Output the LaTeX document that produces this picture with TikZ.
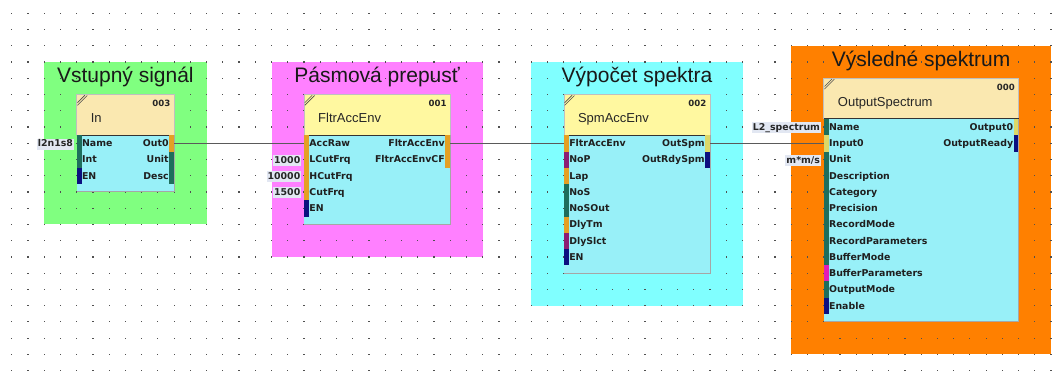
\documentclass[tikz,border=0pt]{standalone}
\usepackage{fontspec}
\setmainfont{Liberation Sans}
\newfontfamily\dejasans{DejaVu Sans}

\definecolor{grpgreen}{HTML}{80FF80}
\definecolor{grppink}{HTML}{FF80FF}
\definecolor{grpcyan}{HTML}{80FFFF}
\definecolor{grporange}{HTML}{FF8000}
\definecolor{bodycyan}{HTML}{98F0F8}
\definecolor{hdrbeige}{HTML}{FAE8B0}
\definecolor{hdryellow}{HTML}{FFF8A0}
\definecolor{pteal}{HTML}{1E6E5C}
\definecolor{pnavy}{HTML}{0C1080}
\definecolor{porange}{HTML}{E4A024}
\definecolor{ppurple}{HTML}{8C1E72}
\definecolor{pyellow}{HTML}{DCD868}
\definecolor{pmagenta}{HTML}{E21CB8}
\definecolor{lblbg}{HTML}{E2E7F2}
\definecolor{wirecol}{HTML}{5A5A5A}
\definecolor{dotcol}{HTML}{505050}

% function block frame: id, left, right, top, rows, header colour, type, instance number
\newcommand{\fbblock}[8]{%
  \fill[bodycyan] (#2,{#4+2.5}) rectangle (#3,{#4+3+#5});
  \draw[black!35, line width=0.9pt] (#3,{#4+2.5}) -- (#3,{#4+3+#5}) -- (#2,{#4+3+#5});
  \fill[#6] (#2,#4) rectangle (#3,{#4+2.5});
  \draw[black!25, line width=0.7pt] (#2,{#4+2.5}) -- (#2,#4) -- (#3,#4) -- (#3,{#4+2.5});
  \draw[black!80, line width=1.2pt] (#2,{#4+2.5}) -- (#3,{#4+2.5});
  \draw[black!70, line width=0.6pt] (#2,#4) ++(0.8pt,-10.8pt) -- ++(9.8pt,9.8pt);
  \draw[black!70, line width=0.6pt] (#2,#4) ++(0.8pt,-8.2pt) -- ++(7.4pt,7.4pt);
  \node[blknum, xshift=-3.5pt] (#1-no) at (#3,{#4+0.75}) {#8};
  \node[blkname, xshift=14pt] (#1-type) at (#2,{#4+1.71}) {#7};
}

% input pins on the left edge: id, left, top, list of label/colour
\newcommand{\leftpins}[4]{%
  \foreach \plab/\pcol [count=\k from 0] in {#4}{
    \node[pbar, fill=\pcol, anchor=north west] (#1-in\k) at (#2,{#3+2.5+\k}) {};
    \node[ptext, anchor=base west, xshift=5.2pt, yshift=-3.4pt] (#1-inname\k) at (#2,{#3+3+\k}) {\plab};
  }}

% output pins on the right edge: id, right, top, list of label/colour
\newcommand{\rightpins}[4]{%
  \foreach \plab/\pcol [count=\k from 0] in {#4}{
    \node[pbar, fill=\pcol, anchor=north east] (#1-out\k) at (#2,{#3+2.5+\k}) {};
    \node[ptext, anchor=base east, xshift=-5.2pt, yshift=-3.4pt] (#1-outname\k) at (#2,{#3+3+\k}) {\plab};
  }}

\begin{document}
\begin{tikzpicture}[x=16.24pt, y=-16.24pt,
  grptitle/.style={font=\fontsize{21}{25}\selectfont, text=black!90, anchor=base, inner sep=0pt},
  blkname/.style={font=\fontsize{13}{15}\selectfont, text=black!85, anchor=base west, inner sep=0pt},
  blknum/.style={font=\dejasans\bfseries\fontsize{8.6}{10}\selectfont, text=black!85, anchor=base east, inner sep=0pt},
  pbar/.style={rectangle, draw=none, inner sep=0pt, minimum width=4.7pt, minimum height=16.24pt},
  ptext/.style={font=\dejasans\bfseries\fontsize{9.4}{11}\selectfont, text=black!88, inner sep=0pt},
  constlbl/.style={font=\dejasans\bfseries\fontsize{9.4}{11}\selectfont, text=black!85, fill=lblbg,
    inner xsep=1pt, inner ysep=1pt, text height=7.2pt, text depth=1.8pt, anchor=base east,
    xshift=-2.5pt, yshift=-3.4pt},
  wire/.style={draw=wirecol, line width=1.3pt}]

% canvas
\fill[white] (-0.72044,-0.81897) rectangle (64.4889,22.7648);
\useasboundingbox (-0.72044,-0.81897) rectangle (64.4889,22.7648);

% group backgrounds
\fill[grpgreen]  (2,3)  rectangle (12,13);
\fill[grppink]   (16,3) rectangle (29,15);
\fill[grpcyan]   (32,3) rectangle (45,18);
\fill[grporange] (48,2) rectangle (64,21);

% dot grid
\foreach \gx in {0,...,64}{
  \foreach \gy in {0,...,22}{
    \fill[dotcol] (\gx,\gy) ++(-0.6pt,-0.6pt) rectangle ++(1.2pt,1.2pt);
  }}

% group titles
\node[grptitle] (title-in)  at (7,{3+1.29})    {Vstupný signál};
\node[grptitle] (title-fl)  at (22.5,{3+1.29}) {Pásmová prepusť};
\node[grptitle] (title-sp)  at (38.5,{3+1.29}) {Výpočet spektra};
\node[grptitle] (title-os)  at (56,{2+1.29})   {Výsledné spektrum};

% blocks
\fbblock{in}{4}{10}{5}{3}{hdrbeige}{In}{003}
\leftpins{in}{4}{5}{Name/pteal,Int/pteal,EN/pnavy}
\rightpins{in}{10}{5}{Out0/porange,Unit/pteal,Desc/pteal}

\fbblock{fl}{18}{27}{5}{5}{hdryellow}{FltrAccEnv}{001}
\leftpins{fl}{18}{5}{AccRaw/porange,LCutFrq/porange,HCutFrq/porange,CutFrq/porange,EN/pnavy}
\rightpins{fl}{27}{5}{FltrAccEnv/porange,FltrAccEnvCF/porange}

\fbblock{sp}{34}{43}{5}{8}{hdryellow}{SpmAccEnv}{002}
\leftpins{sp}{34}{5}{FltrAccEnv/porange,NoP/ppurple,Lap/porange,NoS/pteal,NoSOut/pteal,DlyTm/porange,DlySlct/ppurple,EN/pnavy}
\rightpins{sp}{43}{5}{OutSpm/pyellow,OutRdySpm/pnavy}

\fbblock{os}{50}{62}{4}{12}{hdrbeige}{OutputSpectrum}{000}
\leftpins{os}{50}{4}{Name/pteal,Input0/pyellow,Unit/pteal,Description/pteal,Category/pteal,Precision/pteal,RecordMode/pteal,RecordParameters/pteal,BufferMode/pteal,BufferParameters/pmagenta,OutputMode/pteal,Enable/pnavy}
\rightpins{os}{62}{4}{Output0/pyellow,OutputReady/pnavy}

% constant inputs
\node[constlbl] (c-in-name)  at (in-in0.west) {l2n1s8};
\node[constlbl] (c-fl-lcut)  at (fl-in1.west) {1000};
\node[constlbl] (c-fl-hcut)  at (fl-in2.west) {10000};
\node[constlbl] (c-fl-cut)   at (fl-in3.west) {1500};
\node[constlbl] (c-os-name)  at (os-in0.west) {L2\_spectrum};
\node[constlbl] (c-os-unit)  at (os-in2.west) {m*m/s};

% signal wires
\draw[wire] (in-out0.east) -- (fl-in0.west);
\draw[wire] (fl-out0.east) -- (sp-in0.west);
\draw[wire] (sp-out0.east) -- (os-in1.west);

\end{tikzpicture}
\end{document}
